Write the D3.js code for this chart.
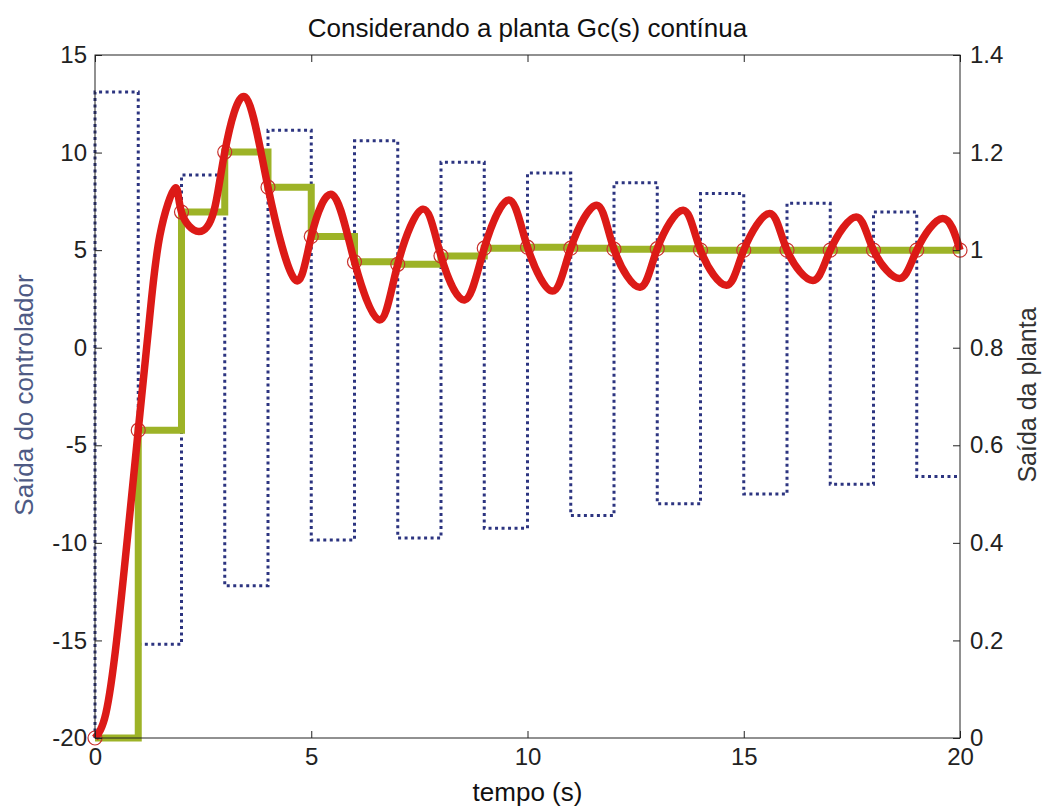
<!DOCTYPE html>
<html>
<head>
<meta charset="utf-8">
<script src="https://cdn.jsdelivr.net/npm/d3@7"></script>
<style>
  body { margin: 0; background: #fff; }
  svg { display: block; font-family: "Liberation Sans", Arial, sans-serif; }
</style>
</head>
<body>
<svg></svg>
<script>
// sample instants (s)
var sampleTimes = [0, 1, 2, 3, 4, 5, 6, 7, 8, 9, 10, 11, 12, 13, 14, 15, 16, 17, 18, 19, 20];
// controller output u(k), held over [k, k+1)  (left axis)
var controlValues = [13.1, -15.2, 8.85, -12.2, 11.15, -9.85, 10.6, -9.75, 9.5, -9.25,
  8.95, -8.6, 8.45, -8.0, 7.9, -7.5, 7.4, -7.0, 6.95, -6.6];
// sampled plant output y(k)  (right axis)
var sampledOutput = [0, 0.631, 1.078, 1.201, 1.129, 1.028, 0.976, 0.971, 0.988, 1.004,
  1.006, 1.004, 1.002, 1.003, 1.0, 1.0, 1.0, 1.0, 1.0, 1.0, 1.0];
// continuous plant output (right axis)
var plantTimes = [0, 0.25, 0.5, 0.75, 1, 1.25, 1.5, 1.85, 2, 2.4, 2.75, 3, 3.47, 4, 4.62, 5,
  5.5, 6, 6.58, 7, 7.58, 8, 8.55, 9, 9.57, 10, 10.58, 11, 11.6, 12, 12.6, 13, 13.6, 14,
  14.6, 15, 15.6, 16, 16.6, 17, 17.6, 18, 18.6, 19, 19.6, 20];
var plantOutput = [0, 0.05, 0.2, 0.41, 0.631, 0.85, 1.03, 1.127, 1.078, 1.038, 1.08, 1.201, 1.314, 1.129, 0.94, 1.028,
  1.113, 0.976, 0.857, 0.971, 1.084, 0.988, 0.898, 1.004, 1.103, 1.006, 0.916, 1.004, 1.092, 1.002, 0.924, 1.003, 1.082, 1.0,
  0.928, 1.0, 1.075, 1.0, 0.938, 1.0, 1.068, 1.0, 0.942, 1.0, 1.065, 1.0];

var xTicks = [0, 5, 10, 15, 20];
var leftTicks = [-20, -15, -10, -5, 0, 5, 10, 15];
var rightTicks = [0, 0.2, 0.4, 0.6, 0.8, 1, 1.2, 1.4];

var W = 1044, H = 807;
var margin = { top: 55, right: 84, bottom: 69, left: 95 },
  width = W - margin.left - margin.right,
  height = H - margin.top - margin.bottom;

var svg = d3.select("svg")
  .attr("width", W)
  .attr("height", H);

svg.append("rect").attr("width", W).attr("height", H).attr("fill", "#fff");

var g = svg.append("g")
  .attr("transform", "translate(" + margin.left + "," + margin.top + ")");

var x = d3.scaleLinear().domain([0, 20]).range([0, width]);
var yL = d3.scaleLinear().domain([-20, 15]).range([height, 0]);
var yR = d3.scaleLinear().domain([0, 1.4]).range([height, 0]);

// controller: starts from the bottom of the axis at t=0, then holds each value
var uPts = [[0, -20]];
controlValues.forEach(function (v, i) { uPts.push([sampleTimes[i], v]); });
uPts.push([20, controlValues[controlValues.length - 1]]);

g.append("path")
  .datum(uPts)
  .attr("fill", "none")
  .attr("stroke", "#2c3480")
  .attr("stroke-width", 3)
  .attr("stroke-dasharray", "3,3.5")
  .attr("d", d3.line()
    .curve(d3.curveStepAfter)
    .x(function (d) { return x(d[0]); })
    .y(function (d) { return yL(d[1]); }));

// sampled output as a staircase
var yPts = sampledOutput.map(function (v, i) { return [sampleTimes[i], v]; });
g.append("path")
  .datum(yPts)
  .attr("fill", "none")
  .attr("stroke", "#9db327")
  .attr("stroke-width", 7)
  .attr("d", d3.line()
    .curve(d3.curveStepAfter)
    .x(function (d) { return x(d[0]); })
    .y(function (d) { return yR(d[1]); }));

// sample markers
g.selectAll(".sample")
  .data(yPts)
  .enter()
  .append("circle")
  .attr("class", "sample")
  .attr("cx", function (d) { return x(d[0]); })
  .attr("cy", function (d) { return yR(d[1]); })
  .attr("r", 7)
  .attr("fill", "none")
  .attr("stroke", "#c9302c")
  .attr("stroke-width", 1.2);

// continuous output
var cPts = plantOutput.map(function (v, i) { return [plantTimes[i], v]; });
g.append("path")
  .datum(cPts)
  .attr("fill", "none")
  .attr("stroke", "#dc1a17")
  .attr("stroke-width", 7.5)
  .attr("stroke-linejoin", "round")
  .attr("d", d3.line()
    .curve(d3.curveNatural)
    .x(function (d) { return x(d[0]); })
    .y(function (d) { return yR(d[1]); }));

// axes, ticks pointing inward
var fmt = function (d) { return String(+d.toFixed(1)); };

g.append("g")
  .attr("transform", "translate(0," + height + ")")
  .call(d3.axisBottom(x).tickValues(xTicks).tickSize(-7).tickPadding(10).tickFormat(fmt));
g.append("g")
  .call(d3.axisTop(x).tickValues(xTicks).tickSize(-7).tickFormat(""));
g.append("g")
  .call(d3.axisLeft(yL).tickValues(leftTicks).tickSize(-7).tickPadding(8).tickFormat(fmt));
g.append("g")
  .attr("transform", "translate(" + width + ",0)")
  .call(d3.axisRight(yR).tickValues(rightTicks).tickSize(-7).tickPadding(10).tickFormat(fmt));

g.selectAll(".domain").remove();
g.selectAll(".tick line").attr("stroke", "#222");
g.selectAll(".tick text")
  .attr("font-size", 24)
  .attr("fill", "#222")
  .attr("font-family", "Liberation Sans, Arial, sans-serif");

g.append("rect")
  .attr("width", width)
  .attr("height", height)
  .attr("fill", "none")
  .attr("stroke", "#222")
  .attr("stroke-width", 1);

// titles
svg.append("text")
  .attr("x", margin.left + width / 2)
  .attr("y", 37)
  .attr("text-anchor", "middle")
  .attr("font-size", 26)
  .attr("fill", "#111")
  .text("Considerando a planta Gc(s) contínua");

svg.append("text")
  .attr("x", margin.left + width / 2)
  .attr("y", 801)
  .attr("text-anchor", "middle")
  .attr("font-size", 26)
  .attr("fill", "#111")
  .text("tempo (s)");

svg.append("text")
  .attr("transform", "translate(33,395) rotate(-90)")
  .attr("text-anchor", "middle")
  .attr("font-size", 26)
  .attr("fill", "#4e5a84")
  .text("Saída do controlador");

svg.append("text")
  .attr("transform", "translate(1036,395) rotate(-90)")
  .attr("text-anchor", "middle")
  .attr("font-size", 25)
  .attr("fill", "#333")
  .text("Saída da planta");
</script>
</body>
</html>
